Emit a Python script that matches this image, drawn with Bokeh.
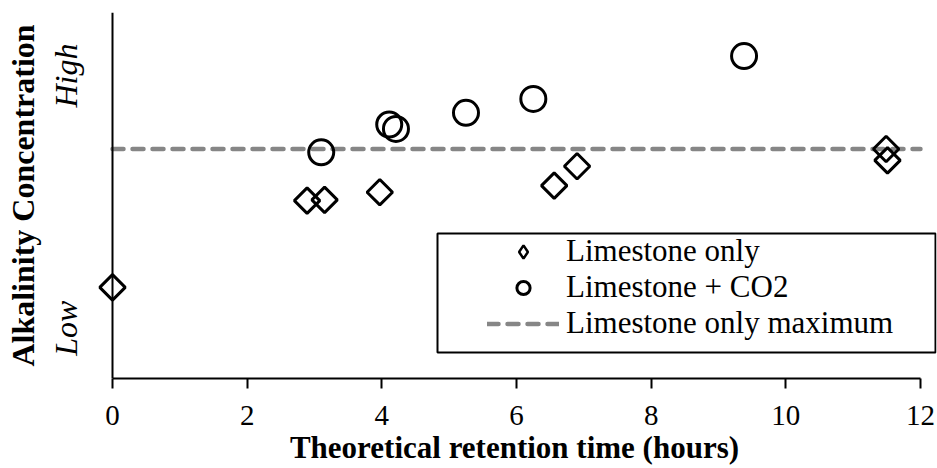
import math
from bokeh.plotting import figure
from bokeh.models import (Range1d, FixedTicker, Legend, LegendItem, BoxAnnotation,
                          LinearAxis, ColumnDataSource)
from bokeh.embed import file_html
from bokeh.resources import INLINE

# ---- data ----
limestone_x = [0.0, 2.89, 3.15, 3.97, 6.56, 6.90, 11.49, 11.51]
limestone_y = [24.9, 48.6, 48.8, 50.9, 52.7, 58.0, 62.7, 59.6]
co2_x = [3.10, 4.11, 4.21, 5.25, 6.25, 9.38]
co2_y = [61.8, 69.4, 68.2, 72.6, 76.4, 88.1]
max_x = [0, 12]
max_y = [62.7, 62.7]
x_ticks = [0, 2, 4, 6, 8, 10, 12]
y_ticks = [21.3, 91.5]
y_tick_labels = ["Low", "High"]

SERIF = "Liberation Serif"

p = figure(width=937, height=468,
           x_range=Range1d(-0.297, 12.238), y_range=Range1d(0, 100),
           output_backend="svg", toolbar_location=None,
           min_border_left=92, min_border_right=1,
           min_border_top=12, min_border_bottom=90)
p.outline_line_color = None
p.xgrid.visible = False
p.ygrid.visible = False
p.background_fill_color = "white"

lime_src = ColumnDataSource(dict(x=limestone_x, y=limestone_y))

line_r = p.line(max_x, max_y, line_color="#868686", line_width=4.5,
                line_dash="11 9", line_cap="round")
dia_r = p.scatter("x", "y", source=lime_src, marker="square", angle=math.pi / 4,
                  size=18, fill_color=None, line_color="black", line_width=3)
circ_r = p.scatter(co2_x, co2_y, marker="circle", size=25,
                   fill_color=None, line_color="black", line_width=3)
# legend key glyph (diamond shape); zero size in the plot itself
dia_key = p.scatter("x", "y", source=lime_src, marker="diamond", size=0,
                    fill_color=None, line_color="black", line_width=2.5)

# x axis
xa = p.xaxis[0]
xa.ticker = FixedTicker(ticks=x_ticks)
xa.bounds = (0, 12)
xa.axis_line_width = 2
xa.major_tick_line_width = 2
xa.major_tick_out = 10
xa.major_tick_in = 0
xa.minor_tick_out = 0
xa.minor_tick_in = 0
xa.major_label_text_font = SERIF
xa.major_label_text_font_size = "29px"
xa.major_label_text_color = "black"
xa.major_label_standoff = 17
xa.axis_label = "Theoretical retention time (hours)"
xa.axis_label_text_font = SERIF
xa.axis_label_text_font_size = "31px"
xa.axis_label_text_font_style = "bold"
xa.axis_label_text_color = "black"
xa.axis_label_standoff = 2

# y axis: labels + title in the left panel (no line)
ya = p.yaxis[0]
ya.ticker = FixedTicker(ticks=y_ticks)
ya.major_label_overrides = dict(zip(y_ticks, y_tick_labels))
ya.axis_line_color = None
ya.major_tick_out = 0
ya.major_tick_in = 0
ya.minor_tick_out = 0
ya.minor_tick_in = 0
ya.major_label_orientation = math.pi / 2
ya.major_label_text_font = SERIF
ya.major_label_text_font_size = "32px"
ya.major_label_text_font_style = "italic"
ya.major_label_text_color = "black"
ya.major_label_standoff = 26
ya.axis_label = "Alkalinity Concentration"
ya.axis_label_text_font = SERIF
ya.axis_label_text_font_size = "32px"
ya.axis_label_text_font_style = "bold"
ya.axis_label_text_color = "black"
ya.axis_label_standoff = -13

# y axis line at x = 0
y_line = LinearAxis(fixed_location=0, ticker=FixedTicker(ticks=[]),
                    axis_line_width=2, axis_line_color="black",
                    major_tick_out=0, major_tick_in=0,
                    minor_tick_out=0, minor_tick_in=0,
                    major_label_text_alpha=0)
p.add_layout(y_line, "left")

# legend
legend = Legend(items=[
    LegendItem(label="Limestone only", renderers=[dia_key]),
    LegendItem(label="Limestone + CO2", renderers=[circ_r]),
    LegendItem(label="Limestone only maximum", renderers=[line_r]),
], location=(395, 37))
legend.border_line_color = None
legend.background_fill_alpha = 0
legend.padding = 8
legend.spacing = 0
legend.glyph_width = 72
legend.glyph_height = 33
legend.label_height = 33
legend.label_standoff = 7
legend.label_text_font = SERIF
legend.label_text_font_size = "31px"
legend.label_text_color = "black"
p.add_layout(legend, "center")

box = BoxAnnotation(left=437, right=935, top=233, bottom=352,
                    left_units="canvas", right_units="canvas",
                    top_units="canvas", bottom_units="canvas",
                    fill_color=None, fill_alpha=0,
                    line_color="black", line_alpha=1.0, line_width=2)
p.add_layout(box)

open("out.html", "w").write(file_html(p, INLINE))
